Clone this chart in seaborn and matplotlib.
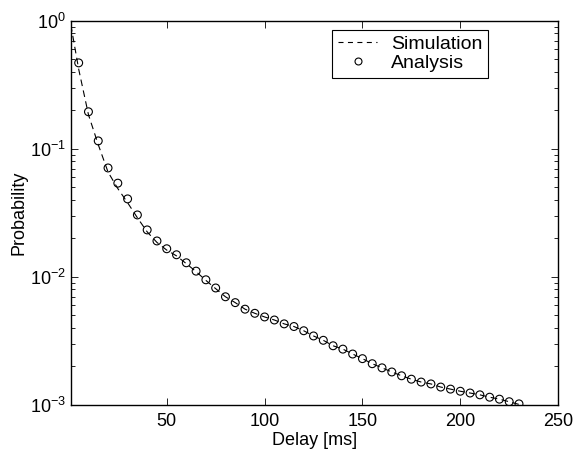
import numpy as np
import pandas as pd
import matplotlib
matplotlib.use("Agg")
import matplotlib.pyplot as plt
from matplotlib.lines import Line2D
import seaborn as sns

# Delay axis values (ms)
sim_delay = [1, 5, 10, 15, 20, 25, 30, 35, 40, 45, 50, 55, 60, 65, 70, 75, 80,
             85, 90, 95, 100, 105, 110, 115, 120, 125, 130, 135, 140, 145, 150,
             155, 160, 165, 170, 175, 180, 185, 190, 195, 200, 205, 210, 215,
             220, 225, 230]
sim_prob = [0.93, 0.42, 0.185, 0.108, 0.066, 0.049, 0.038, 0.029, 0.0225,
            0.0186, 0.0162, 0.0146, 0.0127, 0.0110, 0.0094, 0.0081, 0.0070,
            0.0063, 0.0056, 0.0052, 0.00487, 0.00461, 0.0043, 0.0041, 0.0038,
            0.00346, 0.0032, 0.0029, 0.00273, 0.0025, 0.0023, 0.0021, 0.00195,
            0.00181, 0.00169, 0.00159, 0.00151, 0.00146, 0.00138, 0.00133,
            0.00128, 0.00124, 0.00120, 0.00115, 0.00111, 0.00106, 0.00101]

ana_delay = [5, 10, 15, 20, 25, 30, 35, 40, 45, 50, 55, 60, 65, 70, 75, 80, 85,
             90, 95, 100, 105, 110, 115, 120, 125, 130, 135, 140, 145, 150, 155,
             160, 165, 170, 175, 180, 185, 190, 195, 200, 205, 210, 215, 220,
             225, 230]
ana_prob = [0.47, 0.195, 0.1155, 0.071, 0.054, 0.0407, 0.0305, 0.0233, 0.0191,
            0.0166, 0.0149, 0.0129, 0.0111, 0.0095, 0.0082, 0.0070, 0.0063,
            0.0056, 0.0052, 0.00487, 0.00461, 0.0043, 0.0041, 0.0038, 0.00346,
            0.0032, 0.0029, 0.00273, 0.0025, 0.0023, 0.0021, 0.00195, 0.00181,
            0.00169, 0.00159, 0.00151, 0.00146, 0.00138, 0.00133, 0.00128,
            0.00124, 0.00120, 0.00115, 0.00111, 0.00106, 0.00102]

sim = pd.DataFrame({"delay": sim_delay, "prob": sim_prob})
ana = pd.DataFrame({"delay": ana_delay, "prob": ana_prob})

sns.set_style("ticks")
plt.rcParams["font.family"] = ["Liberation Sans", "DejaVu Sans"]
plt.rcParams["mathtext.fontset"] = "custom"
plt.rcParams["mathtext.rm"] = "Liberation Sans"
plt.rcParams["mathtext.it"] = "Liberation Sans:italic"
plt.rcParams["font.size"] = 13
for key in ["text.color", "axes.labelcolor", "xtick.color", "ytick.color"]:
    plt.rcParams[key] = "black"

fig = plt.figure(figsize=(5.76, 4.54), dpi=100)
ax = fig.add_axes([0.123, 0.108, 0.846, 0.846])

sns.lineplot(data=sim, x="delay", y="prob", ax=ax, color="black",
             linewidth=0.8, dashes=False)
ax.lines[0].set_dashes((6, 4))
sns.scatterplot(data=ana, x="delay", y="prob", ax=ax, marker="o",
                facecolor="none", edgecolor="black", linewidth=0.8, s=32,
                zorder=3)

ax.set_yscale("log")
ax.set_xlim(1, 250)
ax.set_ylim(1e-3, 1)
ax.set_xticks([50, 100, 150, 200, 250])
ax.set_xlabel("Delay [ms]", fontsize=13, labelpad=1)
ax.set_ylabel("Probability", fontsize=13, labelpad=2)

for s in ax.spines.values():
    s.set_visible(True)
    s.set_linewidth(1.0)
    s.set_color("black")
ax.tick_params(which="both", direction="in", top=True, right=True,
               labelsize=13, color="black", labelcolor="black")
ax.tick_params(which="major", length=5, width=0.6)
ax.tick_params(which="minor", length=3, width=0.6)
ax.tick_params(axis="x", pad=6)

handles = [
    Line2D([], [], color="black", linewidth=0.8, dashes=(4.5, 4)),
    Line2D([], [], color="black", marker="o", linestyle="none",
           markerfacecolor="none", markersize=5, markeredgewidth=0.8),
]
leg = ax.legend(handles, ["Simulation", "Analysis"], loc="upper right",
                bbox_to_anchor=(0.856, 0.977), borderaxespad=0,
                fancybox=False, framealpha=1, edgecolor="black",
                fontsize=14, handlelength=2.0, handletextpad=0.7,
                borderpad=0.3, labelspacing=0.05)
leg.get_frame().set_linewidth(0.8)

fig.savefig("out.png", dpi=100)
